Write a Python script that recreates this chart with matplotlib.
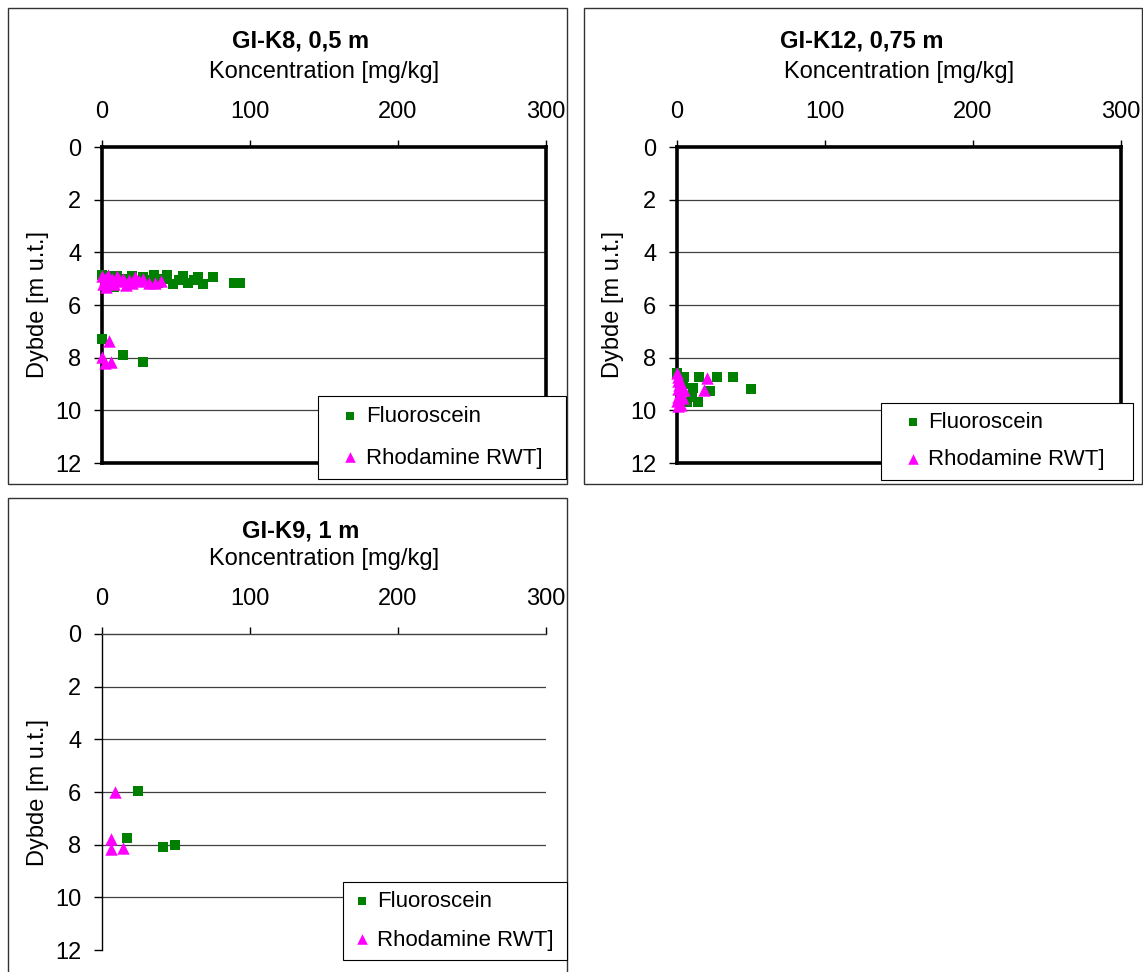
import matplotlib
matplotlib.use("Agg")
import matplotlib.pyplot as plt
from matplotlib.patches import Rectangle

plt.rcParams['font.family'] = ['Liberation Sans', 'DejaVu Sans']

# ---------------- data ----------------
titles = ["GI-K8, 0,5 m", "GI-K12, 0,75 m", "GI-K9, 1 m"]
xlabel = "Koncentration [mg/kg]"
ylabel = "Dybde [m u.t.]"
series_names = ["Fluoroscein", "Rhodamine RWT]"]
x_ticks = [0, 100, 200, 300]
y_ticks = [0, 2, 4, 6, 8, 10, 12]

# GI-K8
k8_fluo_conc = [0, 2, 4, 6, 8, 10, 12, 15, 18, 20, 25, 28, 32, 35, 38, 42, 44, 48,
                52, 55, 58, 62, 65, 68, 75, 89, 93, 0, 14, 28]
k8_fluo_depth = [4.85, 5.2, 4.9, 5.1, 5.3, 4.9, 5.1, 5.0, 5.2, 4.9, 5.1, 4.95, 5.05, 4.85,
                 5.15, 5.0, 4.85, 5.2, 5.05, 4.9, 5.15, 5.05, 4.95, 5.2, 4.95, 5.15, 5.15,
                 7.3, 7.9, 8.18]
k8_rhod_conc = [0, 1, 2, 3, 4, 5, 7, 8, 10, 12, 14, 16, 18, 20, 22, 25, 28, 32, 36, 40,
                5, 0, 2, 6]
k8_rhod_depth = [4.9, 5.2, 5.0, 5.3, 4.85, 5.1, 5.0, 5.2, 4.9, 5.1, 5.0, 5.25, 5.05, 5.15,
                 4.95, 5.1, 5.0, 5.15, 5.15, 5.1, 7.36, 7.96, 8.2, 8.18]

# GI-K12
k12_fluo_conc = [0, 5, 15, 27, 38, 50, 11, 22, 14, 10, 7, 2, 4]
k12_fluo_depth = [8.6, 8.72, 8.72, 8.72, 8.72, 9.2, 9.15, 9.25, 9.67, 9.48, 9.7, 9.15, 9.0]
k12_rhod_conc = [0, 0.5, 1, 1.5, 0.5, 2, 1, 0, 2.5, 1, 3, 5, 4, 18, 20]
k12_rhod_depth = [8.6, 8.75, 8.9, 9.05, 9.2, 9.35, 9.5, 9.65, 9.8, 9.85, 9.0, 9.23, 9.55,
                  9.23, 8.78]

# GI-K9
k9_fluo_conc = [24, 17, 41, 49]
k9_fluo_depth = [5.95, 7.76, 8.1, 8.03]
k9_rhod_conc = [9, 6, 6, 14]
k9_rhod_depth = [6.0, 7.78, 8.18, 8.12]

# ---------------- figure ----------------
W, H = 1143, 972
fig = plt.figure(figsize=(W / 100, H / 100), dpi=100)
FS = 17
LFS = 16


def fx(px):
    return px / W


def fy(py):
    return 1 - py / H


panels = [
    dict(frame=(8, 8, 567, 484), ax=(102, 147, 546, 463), thick=True,
         title_x=301, leg=(318, 396, 566, 484), lspace=0.93, lpad=0.45, hl=2.0, htp=-0.3,
         data=(k8_fluo_conc, k8_fluo_depth, k8_rhod_conc, k8_rhod_depth), title=titles[0]),
    dict(frame=(584, 8, 1142, 484), ax=(677, 147, 1121, 463), thick=True,
         title_x=862, leg=(881, 403, 1133, 484), lspace=0.72, lpad=0.42, hl=2.0, htp=-0.3,
         data=(k12_fluo_conc, k12_fluo_depth, k12_rhod_conc, k12_rhod_depth), title=titles[1]),
    dict(frame=(8, 498, 567, 975), ax=(102, 634, 546, 950), thick=False,
         title_x=301, leg=(343, 882, 567, 972), lspace=0.78, lpad=0.42, hl=0.9, htp=0.2,
         data=(k9_fluo_conc, k9_fluo_depth, k9_rhod_conc, k9_rhod_depth), title=titles[2]),
]

for p in panels:
    x0, y0, x1, y1 = p['frame']
    fig.patches.append(Rectangle((fx(x0), fy(y1)), fx(x1) - fx(x0), fy(y0) - fy(y1),
                                 transform=fig.transFigure, fill=False,
                                 edgecolor='#333333', linewidth=1.0, zorder=-5))
    ax0, ay0, ax1_, ay1 = p['ax']
    ax = fig.add_axes([fx(ax0), fy(ay1), fx(ax1_) - fx(ax0), fy(ay0) - fy(ay1)])
    fc, fd, rc, rd = p['data']
    ax.scatter(fc, fd, marker='s', s=50, color='#008000', linewidths=0, zorder=3,
               label=series_names[0], clip_on=False)
    ax.scatter(rc, rd, marker='^', s=80, color='#ff00ff', linewidths=0, zorder=4,
               label=series_names[1], clip_on=False)
    ax.set_xlim(0, 300)
    ax.set_ylim(12, 0)
    ax.set_xticks(x_ticks)
    ax.set_yticks(y_ticks)
    ax.xaxis.tick_top()
    ax.xaxis.set_label_position('top')
    ax.tick_params(axis='x', direction='out', length=5, width=1, pad=12, labelsize=FS)
    ax.tick_params(axis='y', direction='out', length=6, width=1, pad=9, labelsize=FS)
    for yv in y_ticks[1:-1]:
        ax.axhline(yv, color='#404040', linewidth=0.9, zorder=1)
    if p['thick']:
        for s in ['top', 'bottom', 'left', 'right']:
            ax.spines[s].set_linewidth(2.6)
            ax.spines[s].set_color('black')
    else:
        ax.spines['left'].set_linewidth(1.0)
        ax.spines['top'].set_linewidth(1.0)
        ax.spines['top'].set_color('#404040')
        ax.spines['right'].set_visible(False)
        ax.spines['bottom'].set_visible(False)
    ax.set_xlabel(xlabel, fontsize=FS, labelpad=17)
    ax.set_ylabel(ylabel, fontsize=FS, labelpad=4)
    ty = p['frame'][1] + 33
    fig.text(fx(p['title_x']), fy(ty), p['title'], fontsize=FS, fontweight='bold',
             ha='center', va='center')
    lx0, ly0, lx1, ly1 = p['leg']
    leg = ax.legend(loc='upper left',
                    bbox_to_anchor=(fx(lx0), fy(ly1), fx(lx1) - fx(lx0), fy(ly0) - fy(ly1)),
                    bbox_transform=fig.transFigure, mode='expand',
                    fontsize=LFS, frameon=True, fancybox=False, framealpha=1,
                    edgecolor='black', handlelength=p['hl'], handletextpad=p['htp'],
                    labelspacing=p['lspace'], borderpad=p['lpad'], borderaxespad=0,
                    markerscale=0.85, scatteryoffsets=[0.4])
    leg.get_frame().set_linewidth(0.8)
    leg.set_zorder(20)

fig.savefig("out.png", dpi=100)
